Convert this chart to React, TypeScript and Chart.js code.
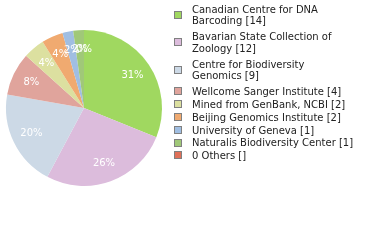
import React, { useEffect, useRef } from "react";
import { Chart, registerables } from "chart.js";

Chart.register(...registerables);

const categories = [
  "Canadian Centre for DNA\nBarcoding",
  "Bavarian State Collection of\nZoology",
  "Centre for Biodiversity\nGenomics",
  "Wellcome Sanger Institute",
  "Mined from GenBank, NCBI",
  "Beijing Genomics Institute",
  "University of Geneva",
  "Naturalis Biodiversity Center",
  "0 Others",
];
const values = [14, 12, 9, 4, 2, 2, 1, 1, 0];
const countLabels = ["14", "12", "9", "4", "2", "2", "1", "1", ""];
const colors = [
  "#a0d860",
  "#dcbcdc",
  "#ccd9e6",
  "#e0a49c",
  "#dce0a0",
  "#f0aa70",
  "#a0bee2",
  "#a0c878",
  "#e07058",
];

const FONT = '10px "DejaVu Sans"';

const overlayPlugin = {
  id: "overlay",
  afterDraw(chart: any) {
    const ctx = chart.ctx;
    const meta = chart.getDatasetMeta(0);
    const data = chart.data.datasets[0].data as number[];
    const total = data.reduce((a: number, b: number) => a + b, 0);
    ctx.save();
    // slice percentage labels
    ctx.font = FONT;
    ctx.fillStyle = "#ffffff";
    ctx.textAlign = "center";
    ctx.textBaseline = "middle";
    meta.data.forEach((arc: any, i: number) => {
      const p = arc.getProps(["startAngle", "endAngle", "x", "y", "outerRadius"], true);
      const mid = (p.startAngle + p.endAngle) / 2;
      const r = p.outerRadius * 0.75;
      const pct = Math.floor((data[i] / total) * 100) + "%";
      ctx.fillText(pct, p.x + Math.cos(mid) * r, p.y + Math.sin(mid) * r);
    });
    // legend
    const labels = chart.data.labels as string[];
    let y = 5;
    const lineH = 11.6;
    ctx.textAlign = "left";
    ctx.textBaseline = "alphabetic";
    labels.forEach((lab: string, i: number) => {
      const lines = (lab + " [" + countLabels[i] + "]").split("\n");
      const blockCenter = y + 3.8 + ((lines.length - 1) * lineH) / 2;
      ctx.fillStyle = colors[i];
      ctx.fillRect(174, Math.round(blockCenter - 4), 8, 8);
      ctx.strokeStyle = "#808080";
      ctx.lineWidth = 1;
      ctx.strokeRect(174.5, Math.round(blockCenter - 4) + 0.5, 7, 7);
      ctx.fillStyle = "#222222";
      lines.forEach((ln, k) => {
        ctx.fillText(ln, 192, y + 7.6 + k * lineH);
      });
      y += 12.8 + (lines.length - 1) * 14.7;
    });
    ctx.restore();
  },
};

export default function App() {
  const ref = useRef<HTMLCanvasElement>(null);
  useEffect(() => {
    document.body.style.margin = "0";
    const chart = new Chart(ref.current!, {
      type: "pie",
      data: {
        labels: categories,
        datasets: [
          {
            data: values,
            backgroundColor: colors,
            borderWidth: 0,
          },
        ],
      },
      options: {
        animation: false,
        responsive: false,
        devicePixelRatio: 1,
        layout: { padding: { left: 6, top: 30, right: 218, bottom: 54 } },
        plugins: {
          legend: { display: false },
          tooltip: { enabled: false },
        },
      },
      plugins: [overlayPlugin],
    });
    return () => chart.destroy();
  }, []);
  return (
    <div style={{ width: 380, height: 240, background: "#ffffff" }}>
      <canvas ref={ref} width={380} height={240} />
    </div>
  );
}
